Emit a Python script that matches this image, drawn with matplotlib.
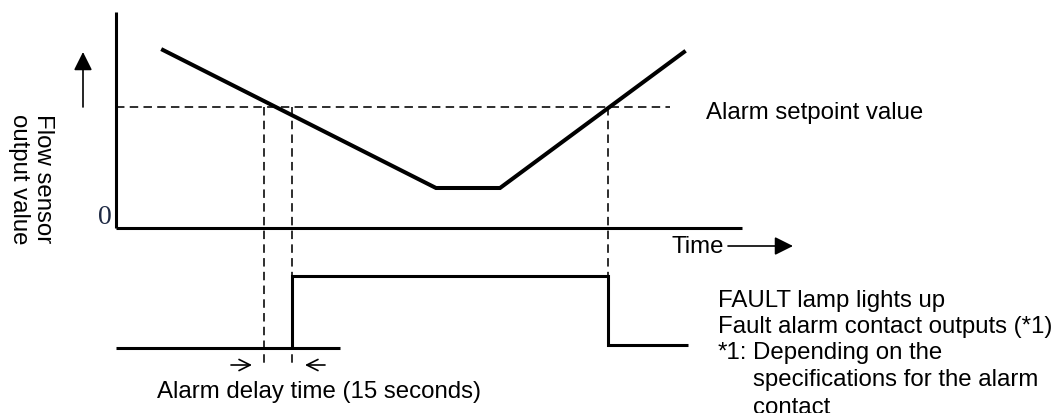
import numpy as np
import matplotlib
matplotlib.use('Agg')
import matplotlib.pyplot as plt

'''
Flow sensor alarm timing diagram
'''

plt.rcParams['font.family'] = ['Liberation Sans', 'DejaVu Sans']

# flow sensor output (time, value)
flow_t = [47, 320, 384, 568]
flow_v = [178, 40, 40, 176]

setpoint = 121
setpoint_end = 554

# alarm timing
t_cross = 148
t_alarm_on = 176
t_alarm_off = 492

# contact output levels
contact_low = -120
contact_high = -48
contact_low_after = -117
contact_left_end = 224
contact_right_end = 572

time_axis_end = 626
value_axis_top = 216

fig = plt.figure(figsize=(10.6, 4.14), dpi=100)
ax = fig.add_axes([0, 0, 1, 1])
ax.set_xlim(-116, 944)
ax.set_ylim(-185, 229)
ax.axis('off')

# axes of the upper graph
ax.plot([0, 0], [0, value_axis_top], color='black', lw=2.2, solid_capstyle='butt')
ax.plot([0, time_axis_end], [0, 0], color='black', lw=2.2, solid_capstyle='butt')

# setpoint line
ax.plot([0, setpoint_end], [setpoint, setpoint], color='black', lw=1.15, dashes=(5.3, 3.3))

# flow curve
ax.plot(flow_t, flow_v, color='black', lw=2.9, solid_joinstyle='miter')

# dashed verticals
ax.plot([t_cross, t_cross], [setpoint, -138], color='black', lw=1.15, dashes=(5.3, 3.3))
ax.plot([t_alarm_on, t_alarm_on], [setpoint, -136], color='black', lw=1.15, dashes=(5.3, 3.3))
ax.plot([t_alarm_off, t_alarm_off], [setpoint, contact_high], color='black', lw=1.15, dashes=(5.3, 3.3))

# contact output signal
ax.plot([0, contact_left_end], [contact_low, contact_low], color='black', lw=2.2, solid_capstyle='butt')
ax.plot([t_alarm_on, t_alarm_on, t_alarm_off, t_alarm_off, contact_right_end],
        [contact_low, contact_high, contact_high, contact_low_after, contact_low_after],
        color='black', lw=2.2, solid_joinstyle='miter', solid_capstyle='butt')

# delay arrows
ax.annotate('', xy=(136, -137), xytext=(115, -137),
            arrowprops=dict(arrowstyle='->', lw=1.2, color='black', mutation_scale=20,
                            shrinkA=0, shrinkB=0))
ax.annotate('', xy=(189, -137), xytext=(209, -137),
            arrowprops=dict(arrowstyle='->', lw=1.2, color='black', mutation_scale=20,
                            shrinkA=0, shrinkB=0))

# value arrow
ax.annotate('', xy=(-33, 176), xytext=(-33, 121),
            arrowprops=dict(arrowstyle='-|>', lw=1.2, color='black', mutation_scale=28,
                            shrinkA=0, shrinkB=0))
# time arrow
ax.annotate('', xy=(677, -18), xytext=(612, -18),
            arrowprops=dict(arrowstyle='-|>', lw=1.2, color='black', mutation_scale=28,
                            shrinkA=0, shrinkB=0))

fs = 17.3
ax.text(-4, 11, '0', family=['Liberation Serif', 'DejaVu Serif'], fontsize=20,
        ha='right', va='center', color='#1f2a44')
ax.text(-85, 50, 'Flow sensor\noutput value', rotation=270, fontsize=fs,
        ha='center', va='center', multialignment='center', linespacing=1.15)
ax.text(556, -18, 'Time', fontsize=fs, ha='left', va='center')
ax.text(590, 116, 'Alarm setpoint value', fontsize=fs, ha='left', va='center')
ax.text(41, -163, 'Alarm delay time (15 seconds)', fontsize=fs, ha='left', va='center')

ax.text(602, 229 - 307, 'FAULT lamp lights up', fontsize=fs, ha='left', va='baseline')
ax.text(602, 229 - 333, 'Fault alarm contact outputs (*1)', fontsize=fs, ha='left', va='baseline')
ax.text(602, 229 - 359, '*1:', fontsize=fs, ha='left', va='baseline')
ax.text(637, 229 - 359, 'Depending on the', fontsize=fs, ha='left', va='baseline')
ax.text(637, 229 - 386, 'specifications for the alarm', fontsize=fs, ha='left', va='baseline')
ax.text(637, 229 - 414, 'contact', fontsize=fs, ha='left', va='baseline')

plt.savefig('out.png', dpi=100)
